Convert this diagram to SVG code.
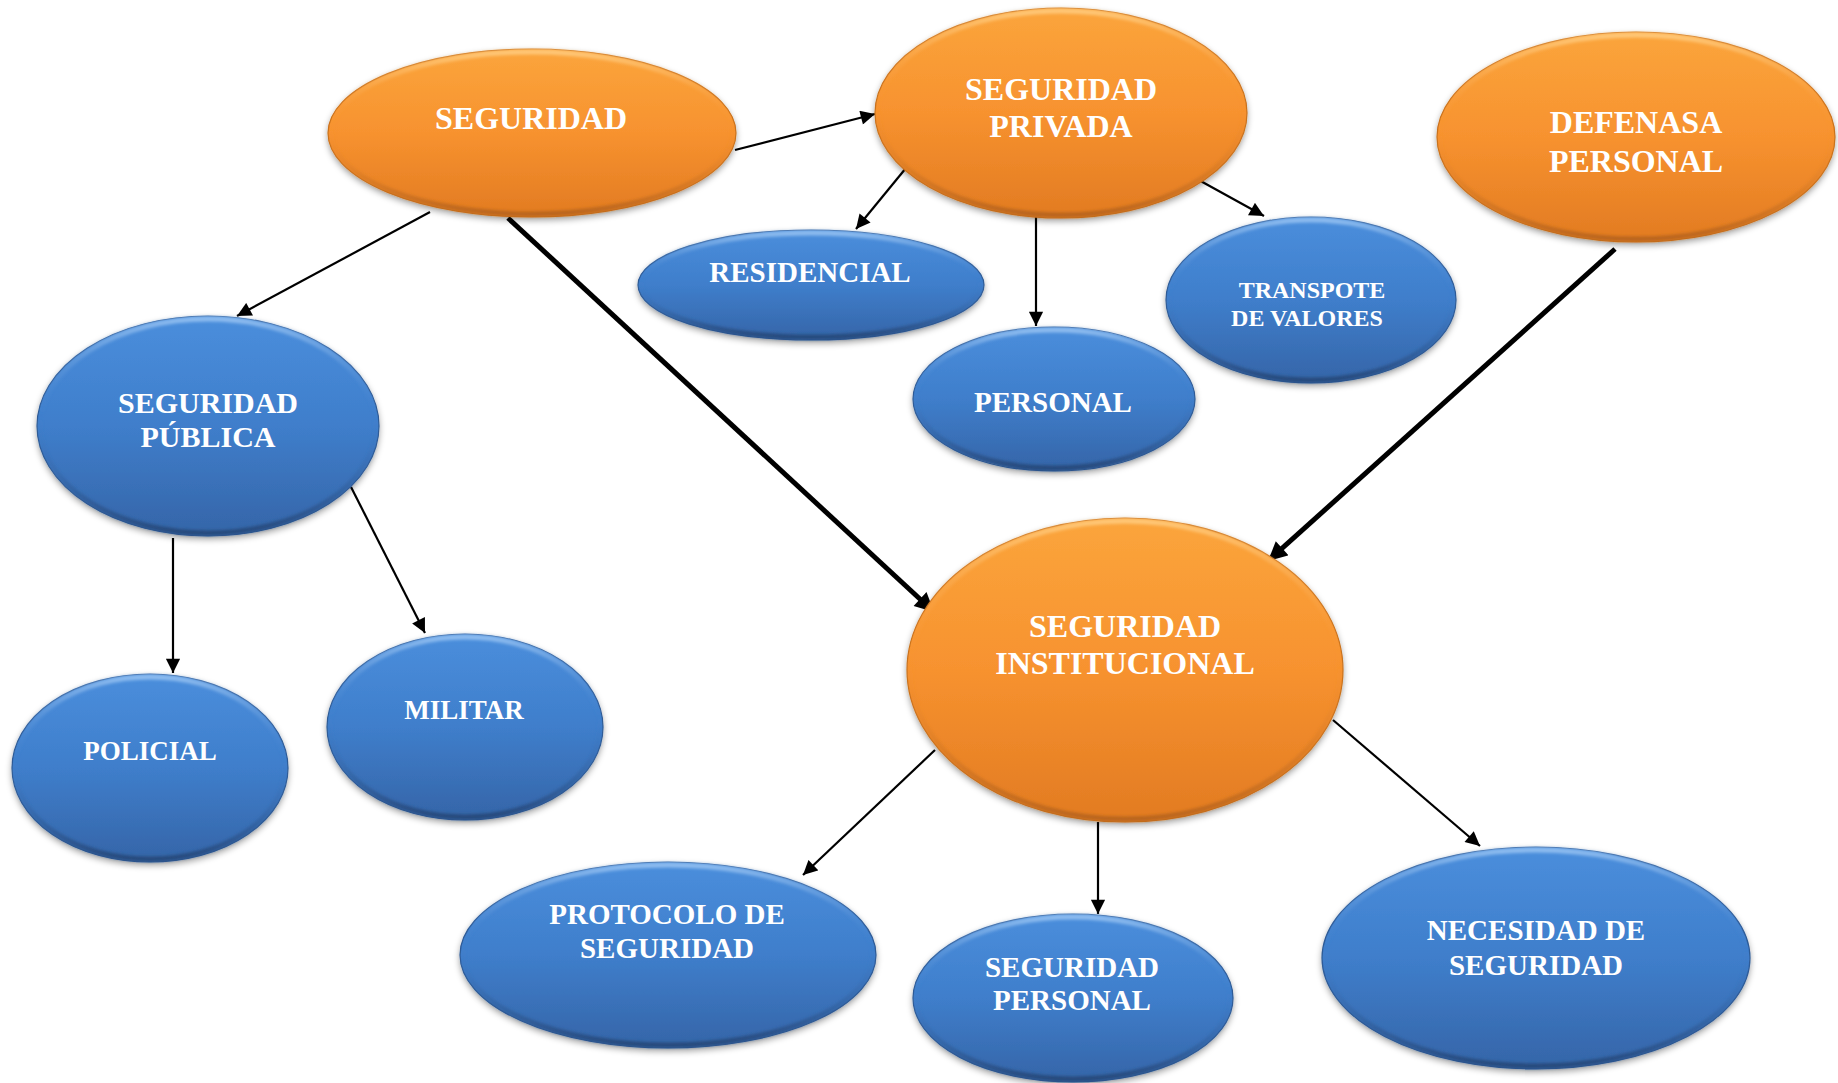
<svg xmlns="http://www.w3.org/2000/svg" width="1838" height="1083" viewBox="0 0 1838 1083">
  <defs>
    <linearGradient id="gOrange" x1="0" y1="0" x2="0" y2="1">
      <stop offset="0" stop-color="#FBA53C"/>
      <stop offset="0.5" stop-color="#F7922F"/>
      <stop offset="1" stop-color="#E27B22"/>
    </linearGradient>
    <linearGradient id="gBlue" x1="0" y1="0" x2="0" y2="1">
      <stop offset="0" stop-color="#4A8EDC"/>
      <stop offset="0.5" stop-color="#3F7ECB"/>
      <stop offset="1" stop-color="#3565A8"/>
    </linearGradient>
    <linearGradient id="rimOrange" x1="0" y1="0" x2="0" y2="1">
      <stop offset="0" stop-color="#FFC878"/>
      <stop offset="0.45" stop-color="#F7922F" stop-opacity="0"/>
      <stop offset="1" stop-color="#B8641A"/>
    </linearGradient>
    <linearGradient id="rimBlue" x1="0" y1="0" x2="0" y2="1">
      <stop offset="0" stop-color="#8FBDF0"/>
      <stop offset="0.45" stop-color="#3F7ECB" stop-opacity="0"/>
      <stop offset="1" stop-color="#25487A"/>
    </linearGradient>
    <filter id="shadow" x="-10%" y="-10%" width="120%" height="130%">
      <feDropShadow dx="0" dy="3" stdDeviation="3" flood-color="#000" flood-opacity="0.35"/>
    </filter>
    <filter id="soft" x="-5%" y="-5%" width="110%" height="110%">
      <feGaussianBlur stdDeviation="1.5"/>
    </filter>
    <marker id="arrow" viewBox="0 0 10 10" refX="10" refY="5" markerWidth="7" markerHeight="6.5" markerUnits="strokeWidth" orient="auto">
      <path d="M0,0 L10,5 L0,10 z" fill="#000"/>
    </marker>
    <marker id="arrowBold" viewBox="0 0 10 10" refX="10" refY="5" markerWidth="4" markerHeight="3.8" markerUnits="strokeWidth" orient="auto">
      <path d="M0,0 L10,5 L0,10 z" fill="#000"/>
    </marker>
  </defs>
  <style>
    .orange .body { fill: url(#gOrange); stroke: #C8711E; stroke-width: 1.2; filter: url(#shadow); }
    .blue .body { fill: url(#gBlue); stroke: #2E5A95; stroke-width: 1.2; filter: url(#shadow); }
    .orange .rim { fill: none; stroke: url(#rimOrange); stroke-width: 5; filter: url(#soft); }
    .blue .rim { fill: none; stroke: url(#rimBlue); stroke-width: 5; filter: url(#soft); }
    text { font-family: "Liberation Serif", "Times New Roman", serif; font-weight: bold; fill: #FFFFFF; text-anchor: middle; }
    .thin { stroke: #000; stroke-width: 2.2; fill: none; marker-end: url(#arrow); }
    .thick { stroke: #000; stroke-width: 5; fill: none; marker-end: url(#arrowBold); }
  </style>

  <rect width="1838" height="1083" fill="#FFFFFF"/>

  <!-- connectors -->
  <g id="connectors">
    <line class="thin" x1="735" y1="150" x2="875" y2="114"/>
    <line class="thin" x1="430" y1="212" x2="237" y2="316"/>
    <line class="thick" x1="508" y1="218" x2="934" y2="612"/>
    <line class="thin" x1="906" y1="168" x2="856" y2="229"/>
    <line class="thin" x1="1036" y1="217" x2="1036" y2="326"/>
    <line class="thin" x1="1197" y1="179" x2="1264" y2="216"/>
    <line class="thick" x1="1615" y1="249" x2="1268" y2="561"/>
    <line class="thin" x1="173" y1="538" x2="173" y2="673"/>
    <line class="thin" x1="351" y1="487" x2="425" y2="633"/>
    <line class="thin" x1="935" y1="750" x2="803" y2="875"/>
    <line class="thin" x1="1098" y1="822" x2="1098" y2="914"/>
    <line class="thin" x1="1333" y1="720" x2="1480" y2="846"/>
  </g>

  <!-- orange nodes -->
  <g id="seguridad" class="orange">
    <ellipse class="body" cx="532" cy="133" rx="204" ry="84"/>
    <ellipse class="rim" cx="532" cy="133" rx="201" ry="81"/>
    <text x="531" y="129" font-size="32">SEGURIDAD</text>
  </g>
  <g id="seguridad-privada" class="orange">
    <ellipse class="body" cx="1061" cy="113" rx="186" ry="105"/>
    <ellipse class="rim" cx="1061" cy="113" rx="183" ry="102"/>
    <text x="1061" y="100" font-size="32">SEGURIDAD</text>
    <text x="1061" y="137" font-size="32">PRIVADA</text>
  </g>
  <g id="defensa-personal" class="orange">
    <ellipse class="body" cx="1636" cy="137" rx="199" ry="105"/>
    <ellipse class="rim" cx="1636" cy="137" rx="196" ry="102"/>
    <text x="1636" y="133" font-size="32">DEFENASA</text>
    <text x="1636" y="172" font-size="32">PERSONAL</text>
  </g>
  <g id="seguridad-institucional" class="orange">
    <ellipse class="body" cx="1125" cy="670" rx="218" ry="152"/>
    <ellipse class="rim" cx="1125" cy="670" rx="215" ry="149"/>
    <text x="1125" y="637" font-size="32">SEGURIDAD</text>
    <text x="1125" y="674" font-size="32">INSTITUCIONAL</text>
  </g>

  <!-- blue nodes -->
  <g id="residencial" class="blue">
    <ellipse class="body" cx="811" cy="285" rx="173" ry="55"/>
    <ellipse class="rim" cx="811" cy="285" rx="170" ry="52"/>
    <text x="810" y="282" font-size="29">RESIDENCIAL</text>
  </g>
  <g id="personal" class="blue">
    <ellipse class="body" cx="1054" cy="399" rx="141" ry="72"/>
    <ellipse class="rim" cx="1054" cy="399" rx="138" ry="69"/>
    <text x="1053" y="412" font-size="29">PERSONAL</text>
  </g>
  <g id="transporte-valores" class="blue">
    <ellipse class="body" cx="1311" cy="300" rx="145" ry="83"/>
    <ellipse class="rim" cx="1311" cy="300" rx="142" ry="80"/>
    <text x="1312" y="298" font-size="24">TRANSPOTE</text>
    <text x="1307" y="326" font-size="24">DE VALORES</text>
  </g>
  <g id="seguridad-publica" class="blue">
    <ellipse class="body" cx="208" cy="426" rx="171" ry="110"/>
    <ellipse class="rim" cx="208" cy="426" rx="168" ry="107"/>
    <text x="208" y="413" font-size="30">SEGURIDAD</text>
    <text x="208" y="447" font-size="30">PÚBLICA</text>
  </g>
  <g id="policial" class="blue">
    <ellipse class="body" cx="150" cy="768" rx="138" ry="94"/>
    <ellipse class="rim" cx="150" cy="768" rx="135" ry="91"/>
    <text x="150" y="760" font-size="27">POLICIAL</text>
  </g>
  <g id="militar" class="blue">
    <ellipse class="body" cx="465" cy="727" rx="138" ry="93"/>
    <ellipse class="rim" cx="465" cy="727" rx="135" ry="90"/>
    <text x="464" y="719" font-size="27">MILITAR</text>
  </g>
  <g id="protocolo-seguridad" class="blue">
    <ellipse class="body" cx="668" cy="955" rx="208" ry="93"/>
    <ellipse class="rim" cx="668" cy="955" rx="205" ry="90"/>
    <text x="667" y="924" font-size="29">PROTOCOLO DE</text>
    <text x="667" y="958" font-size="29">SEGURIDAD</text>
  </g>
  <g id="seguridad-personal" class="blue">
    <ellipse class="body" cx="1073" cy="998" rx="160" ry="84"/>
    <ellipse class="rim" cx="1073" cy="998" rx="157" ry="81"/>
    <text x="1072" y="977" font-size="29">SEGURIDAD</text>
    <text x="1072" y="1010" font-size="29">PERSONAL</text>
  </g>
  <g id="necesidad-seguridad" class="blue">
    <ellipse class="body" cx="1536" cy="958" rx="214" ry="111"/>
    <ellipse class="rim" cx="1536" cy="958" rx="211" ry="108"/>
    <text x="1536" y="940" font-size="29">NECESIDAD DE</text>
    <text x="1536" y="975" font-size="29">SEGURIDAD</text>
  </g>
</svg>
